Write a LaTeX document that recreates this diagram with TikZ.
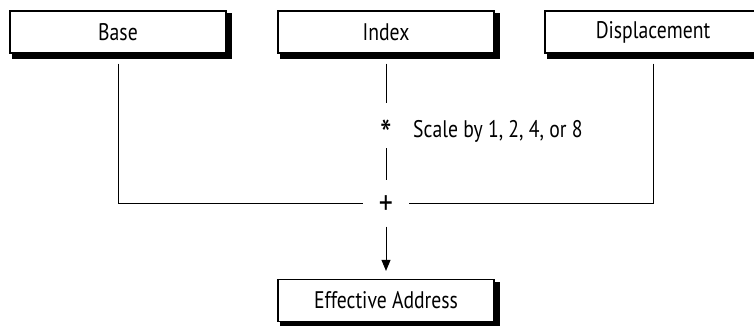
\documentclass[tikz,border=0pt]{standalone}
\usepackage{fontspec}
\setmainfont[FakeStretch=0.82]{PT Sans}
\usetikzlibrary{arrows.meta,backgrounds}
\begin{document}
\begin{tikzpicture}[x=1pt,y=-1pt,
  box/.style={draw,line width=1.2pt,fill=white,minimum width=216pt,minimum height=42pt,inner sep=0pt,font=\fontsize{24}{26}\selectfont},
  opnode/.style={inner sep=0pt,font=\bfseries},
  lbl/.style={inner sep=0pt,font=\fontsize{24}{26}\selectfont},
  conn/.style={line width=0.9pt},
  shadowfill/.style={fill=black}]
\useasboundingbox (0,0) rectangle (754,325);
\node[box] (base) at (118,32) {Base};
\node[box] (index) at (386,32) {Index};
\node[box] (disp) at (653,32) {Displacement};
\node[box] (ea) at (386,300.5) {Effective Address};
\begin{scope}[on background layer]
  \foreach \b in {base,index,disp,ea}
    \fill[shadowfill] ([shift={(3,3)}]\b.north west) rectangle ([shift={(5.5,5.5)}]\b.south east);
\end{scope}
\node[opnode,font=\fontsize{40}{40}\selectfont,minimum width=48pt,minimum height=45pt,text height=45pt,text depth=-8pt] (star) at (386,125.5) {*};
\node[opnode,font=\fontsize{34}{34}\selectfont,minimum width=46pt,minimum height=46pt,text height=22pt,text depth=-1pt] (plus) at (386,203.3) {+};
\node[lbl,anchor=base west] (scale) at (413,137.5) {Scale by 1, 2, 4, or 8};
\draw[conn] ([yshift=-10pt]index.south) -- (star.north);
\draw[conn] (star.south) -- (plus.north);
\draw[conn] ([yshift=-10pt]base.south) |- (plus.west);
\draw[conn] ([yshift=-10pt]disp.south) |- (plus.east);
\draw[conn,-{Triangle[length=11pt,width=9pt]},shorten >=8pt] (plus.south) -- (ea.north);
\end{tikzpicture}
\end{document}
